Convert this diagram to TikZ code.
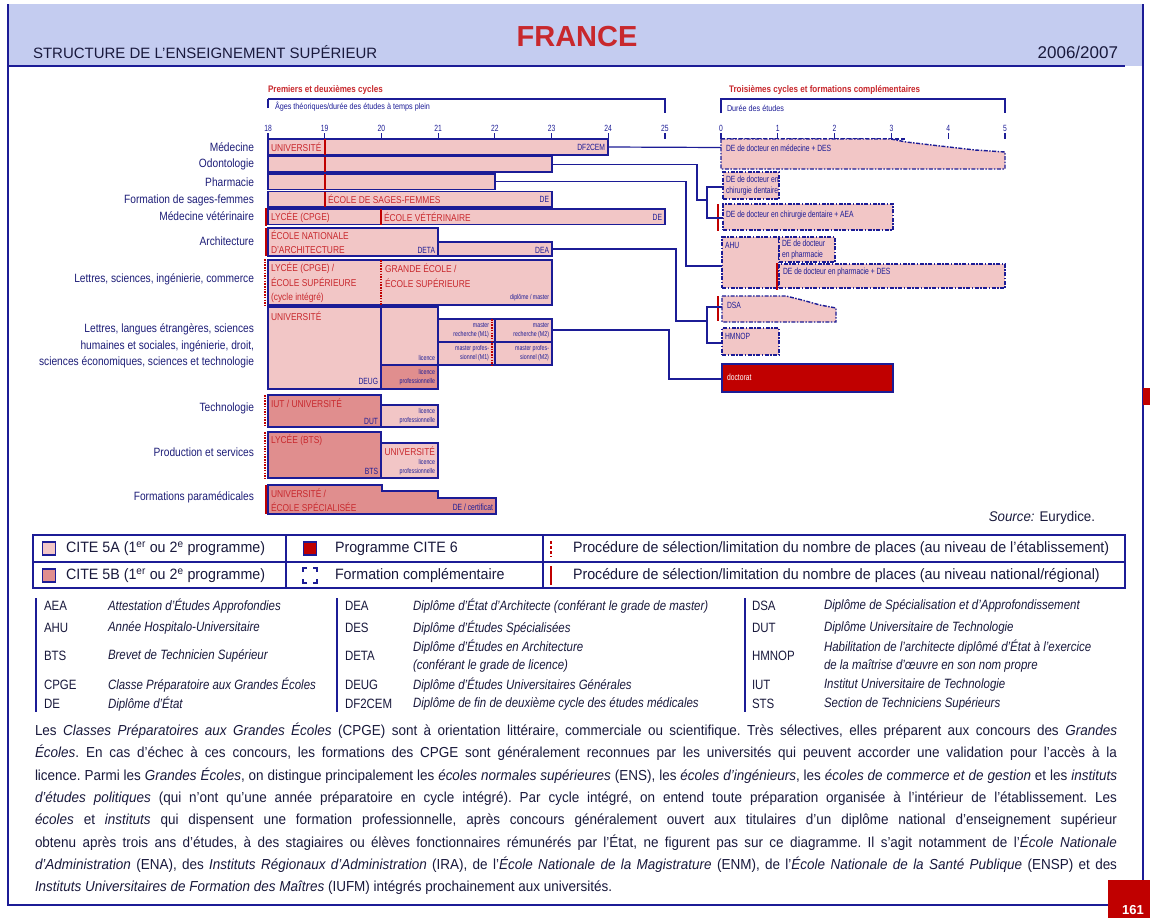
\documentclass[tikz,border=0pt]{standalone}
\usepackage{fontspec}
\setmainfont{Liberation Sans}[FakeStretch=0.85]
\newfontfamily\cond{Liberation Sans}[FakeStretch=0.75]
\newfontfamily\rcond{Liberation Sans}[FakeStretch=0.84]
\newfontfamily\lgfont{Liberation Sans}[FakeStretch=0.95]
\newfontfamily\parafont{Liberation Sans}[FakeStretch=0.93]
\newfontfamily\wide{Liberation Sans}
\newcommand\fsz[2]{\fontsize{#1}{#2}\selectfont}
\definecolor{navy}{RGB}{28,28,150}
\definecolor{ink}{RGB}{30,30,120}
\definecolor{pa}{RGB}{242,198,198}
\definecolor{pb}{RGB}{224,142,142}
\definecolor{dred}{RGB}{192,0,0}
\definecolor{rtxt}{RGB}{200,40,45}
\definecolor{hblue}{RGB}{196,204,240}
\definecolor{dark}{RGB}{25,25,60}
\newcommand\bx[6]{\node[#1,anchor=north west,minimum width={#5-#3},minimum height={#6-#4}] (#2) at (#3,#4) {};}
\begin{document}
\begin{tikzpicture}[x=1pt,y=-1pt,
 every node/.style={inner sep=0pt,outer sep=0pt},
 ba/.style={fill=pa,draw=navy,line width=1.4pt},
 bb/.style={fill=pb,draw=navy,line width=1.4pt},
 fc/.style={fill=pa,draw=navy,line width=1.4pt,dash pattern=on 4pt off 1.5pt on 1.5pt off 1.5pt},
 nat/.style={draw=dred,line width=1.8pt},
 etab/.style={draw=dred,line width=1.8pt,dash pattern=on 1.5pt off 1.2pt},
 conn/.style={draw=navy,line width=1.2pt},
 lab/.style={text=ink,font=\fsz{12}{16.5},anchor=east,align=right},
 rt/.style={text=rtxt,font=\rcond\fsz{10}{14.5},anchor=west,align=left},
 bt/.style={text=navy,font=\cond\fsz{9}{10},anchor=east,align=right},
 tt/.style={text=navy,font=\cond\fsz{7}{9},anchor=east,align=right},
 ft/.style={text=navy,font=\cond\fsz{9}{11},anchor=west,align=left},
 axn/.style={text=navy,font=\cond\fsz{9}{10}},
 lg/.style={text=dark,font=\lgfont\fsz{15}{17},anchor=west},
 ab/.style={text=dark,font=\fsz{13.5}{18},anchor=west,align=left},
 ad/.style={text=dark,font=\itshape\fsz{13.5}{18},anchor=west,align=left}]
\useasboundingbox (0,0) rectangle (1150,918);
\fill[white] (0,0) rectangle (1150,918);
% header
\fill[hblue] (8,4) rectangle (1143,66);
\draw[navy,line width=1.2pt] (8,4)--(8,905)--(1108,905);
\draw[navy,line width=1.2pt] (1143,4)--(1143,880);
\draw[navy,line width=1.5pt] (8,66)--(1125,66);
\node[anchor=west,text=dark,font=\wide\fsz{15}{16}] (htitle) at (33,52) {STRUCTURE DE L’ENSEIGNEMENT SUPÉRIEUR};
\node[anchor=east,text=dark,font=\wide\fsz{17}{18}] (hyear) at (1118,52) {2006/2007};
\node[text=rtxt,font=\wide\bfseries\fsz{29}{30}] (hfr) at (577,37) {FRANCE};
\fill[dred] (1143,388) rectangle (1150,405);
\node[fill=dred,anchor=north west,minimum width=42,minimum height=38] (pgbox) at (1108,880) {};
\node[text=white,font=\wide\bfseries\fsz{13}{14}] (pg) at (1133,910) {161};
% brackets
\node[anchor=west,text=rtxt,font=\bfseries\fsz{9.5}{10}] (c12) at (268,90) {Premiers et deuxièmes cycles};
\node[anchor=west,text=navy,font=\fsz{8.5}{9}] (ages) at (275,107) {Âges théoriques/durée des études à temps plein};
\draw[navy,line width=1.5pt] (268,108)--(268,99);
\draw[navy,line width=2.5pt] (268,99)--(665,99)--(665,113);
\node[anchor=west,text=rtxt,font=\bfseries\fsz{9.5}{10}] (c3) at (729,90) {Troisièmes cycles et formations complémentaires};
\node[anchor=west,text=navy,font=\fsz{8.5}{9}] (dur) at (727,108) {Durée des études};
\draw[navy,line width=2.5pt] (721,113)--(721,99)--(1005,99)--(1005,113);
% axes
\foreach \n [count=\i from 0] in {18,...,25} {
  \node[axn] (ax\n) at (268+56.7*\i,128) {\n};
  \draw[navy,line width=1.2pt] (268+56.7*\i,133)--(268+56.7*\i,139);
}
\draw[navy,line width=1.3pt] (268,138.5)--(608,138.5);
\foreach \n [count=\i from 0] in {0,...,5} {
  \node[axn] (ay\n) at (721+56.8*\i,128) {\n};
  \draw[navy,line width=1.2pt] (721+56.8*\i,133)--(721+56.8*\i,139);
}
\draw[navy,line width=1.3pt,dash pattern=on 4pt off 2pt] (721,139)--(906,139);
% left labels
\node[lab] (lmed) at (254,147) {Médecine};
\node[lab] (lodo) at (254,164) {Odontologie};
\node[lab] (lpha) at (254,182) {Pharmacie};
\node[lab] (lsag) at (254,200) {Formation de sages-femmes};
\node[lab] (lvet) at (254,216) {Médecine vétérinaire};
\node[lab] (larc) at (254,241) {Architecture};
\node[lab] (llet) at (254,279) {Lettres, sciences, ingénierie, commerce};
\node[lab] (luni) at (254,346) {Lettres, langues étrangères, sciences\\humaines et sociales, ingénierie, droit,\\sciences économiques, sciences et technologie};
\node[lab] (ltec) at (254,408) {Technologie};
\node[lab] (lpro) at (254,452) {Production et services};
\node[lab] (lpar) at (254,497) {Formations paramédicales};
% rows
\bx{ba}{med}{268}{139}{608}{155}
\draw[nat] (325,139)--(325,155);
\node[rt] (tmed) at (271,147.5) {UNIVERSITÉ};
\node[bt] (tdf) at (605,147.5) {DF2CEM};
\bx{ba}{odo}{268}{156.5}{552}{172}
\draw[nat] (325,156.5)--(325,172);
\bx{ba}{pha}{268}{174}{495}{189.5}
\draw[nat] (325,174)--(325,189.5);
\bx{ba}{sag}{268}{191.5}{552}{207}
\draw[nat] (325,191.5)--(325,207);
\node[rt] (tsag) at (328,199.5) {ÉCOLE DE SAGES-FEMMES};
\node[bt] (tsagde) at (549,199.5) {DE};
\bx{ba}{vet}{268}{209}{665}{224.5}
\draw[nat] (381,209)--(381,224.5);
\draw[nat] (266,208)--(266,225.5);
\node[rt] (tvet1) at (271,217) {LYCÉE (CPGE)};
\node[rt] (tvet2) at (384,217) {ÉCOLE VÉTÉRINAIRE};
\node[bt] (tvetde) at (662,217) {DE};
\bx{ba}{arc}{268}{228}{438}{256}
\bx{ba}{dea}{438}{242}{552}{256}
\draw[nat] (266,228)--(266,256);
\node[rt] (tarc) at (271,242) {ÉCOLE NATIONALE\\D’ARCHITECTURE};
\node[bt] (tdeta) at (435,250) {DETA};
\node[bt] (tdea) at (549,250) {DEA};
\bx{ba}{let}{268}{260}{552}{305}
\draw[etab] (381,260)--(381,305);
\draw[etab] (265,259)--(265,306);
\node[rt] (tlet1) at (271,283) {LYCÉE (CPGE) /\\ÉCOLE SUPÉRIEURE\\(cycle intégré)};
\node[rt] (tlet2) at (385,275.5) {GRANDE ÉCOLE /\\ÉCOLE SUPÉRIEURE};
\node[tt] (tlet3) at (549,298) {diplôme / master};
\bx{ba}{uni}{268}{307}{381}{389}
\bx{ba}{lic}{381}{307}{438}{365}
\bx{bb}{lpro}{381}{365}{438}{389}
\bx{ba}{mr1}{438}{319}{495}{342}
\bx{ba}{mr2}{495}{319}{552}{342}
\bx{ba}{mp1}{438}{342}{495}{365}
\bx{ba}{mp2}{495}{342}{552}{365}
\draw[etab] (492,319)--(492,365);
\node[rt] (tuni) at (271,316) {UNIVERSITÉ};
\node[bt] (tdeug) at (378,381) {DEUG};
\node[tt] (tlic) at (435,358) {licence};
\node[tt] (tlpro) at (435,377) {licence\\professionnelle};
\node[tt] (tmr1) at (489,330.5) {master\\recherche (M1)};
\node[tt] (tmr2) at (549,330.5) {master\\recherche (M2)};
\node[tt] (tmp1) at (489,353.5) {master profes-\\sionnel (M1)};
\node[tt] (tmp2) at (549,353.5) {master profes-\\sionnel (M2)};
\bx{bb}{iut}{268}{395}{381}{427}
\bx{ba}{lp2}{381}{405}{438}{427}
\draw[etab] (265,395)--(265,427);
\node[rt] (tiut) at (271,403) {IUT / UNIVERSITÉ};
\node[bt] (tdut) at (378,421) {DUT};
\node[tt] (tlp2) at (435,416) {licence\\professionnelle};
\bx{bb}{bts}{268}{432}{381}{478}
\bx{ba}{lp3}{381}{443}{438}{478}
\draw[etab] (265,432)--(265,478);
\node[rt] (tbts) at (271,440) {LYCÉE (BTS)};
\node[bt] (tbtsd) at (378,471) {BTS};
\node[rt,anchor=east] (tlp3u) at (435,451) {UNIVERSITÉ};
\node[tt] (tlp3) at (435,467) {licence\\professionnelle};
\draw[bb] (268,485)--(382,485)--(382,491)--(438,491)--(438,498)--(496,498)--(496,514)--(268,514)--cycle;
\draw[nat] (266,485)--(266,514);
\node[rt] (tpar) at (271,500) {UNIVERSITÉ /\\ÉCOLE SPÉCIALISÉE};
\node[bt] (tparde) at (493,507) {DE / certificat};
% right side
\draw[fc] (721,139)--(891,139)--(906,142)--(940,146)--(975,150)--(1005,152)--(1005,169)--(721,169)--cycle;
\coordinate (dmedw) at (721,147.5);
\node[ft] (tdmed) at (726,148) {DE de docteur en médecine + DES};
\bx{fc}{dch1}{723}{172}{779}{199}
\node[ft] (tdch1) at (726,185.5) {DE de docteur en\\chirurgie dentaire};
\bx{fc}{dch2}{723}{204}{893}{230}
\draw[nat] (718,204)--(718,231);
\node[ft] (tdch2) at (726,215) {DE de docteur en chirurgie dentaire + AEA};
\bx{fc}{ahu}{722}{237}{779}{288}
\node[ft] (tahu) at (725,245) {AHU};
\bx{fc}{dph1}{779}{237}{835}{262}
\node[ft] (tdph1) at (782,249.5) {DE de docteur\\en pharmacie};
\bx{fc}{dph2}{779}{264}{1005}{288}
\draw[nat] (777,263)--(777,290);
\node[ft] (tdph2) at (783,272) {DE de docteur en pharmacie + DES};
\draw[fc] (722,296)--(786,296)--(802,300)--(820,305)--(836,308)--(836,322)--(722,322)--cycle;
\coordinate (dsaw) at (722,307);
\draw[nat] (718,296)--(718,321);
\node[ft] (tdsa) at (727,305) {DSA};
\bx{fc}{hmn}{722}{328}{779}{355}
\node[ft] (thmn) at (725,336) {HMNOP};
\node[fill=dred,draw=navy,line width=1.4pt,anchor=north west,minimum width=171,minimum height=28] (doc) at (722,364) {};
\node[ft,text=white] (tdoc) at (727,377) {doctorat};
% connectors
\draw[conn] (med.east) -- (dmedw);
\draw[conn] (odo.east) -| (697,200) -- (707,200);
\draw[conn] (dch1.west |- 0,187) -- (707,187) -- (707,218) -- (dch2.west |- 0,218);
\draw[conn] (pha.east) -| (686,266) -- (ahu.west |- 0,266);
\draw[conn] (dea.east) -| (676,321) -- (707,321);
\draw[conn] (dsaw) -- (707,307) -- (707,343) -- (hmn.west |- 0,343);
\draw[conn] (mr2.east |- 0,330) -| (669,379) -- (doc.west |- 0,379);
% source
\node[anchor=east,text=dark,font=\lgfont\fsz{14}{16}] (src) at (1095,518) {\textit{Source:} Eurydice.};
% legend
\draw[navy,line width=1.5pt] (33,535) rectangle (1125,588);
\draw[navy,line width=1.2pt] (33,562)--(1125,562) (286,535)--(286,588) (543,535)--(543,588);
\node[ba,minimum size=13,line width=1.2pt] (lgA) at (49,548.5) {};
\node[lg] (lgAt) at (66,548.5) {CITE 5A (1\textsuperscript{er} ou 2\textsuperscript{e} programme)};
\node[bb,minimum size=13,line width=1.2pt] (lgB) at (49,575.5) {};
\node[lg] (lgBt) at (66,575.5) {CITE 5B (1\textsuperscript{er} ou 2\textsuperscript{e} programme)};
\node[fill=dred,draw=navy,line width=1.2pt,minimum size=13] (lg6) at (310,548.5) {};
\node[lg] (lg6t) at (335,548.5) {Programme CITE 6};
\coordinate (fcc) at (310,575.5);
\draw[navy,line width=1.5pt] (303,572)--(303,568)--(307,568) (313,568)--(317,568)--(317,572) (317,579)--(317,583)--(313,583) (307,583)--(303,583)--(303,579);
\node[lg] (lgft) at (335,575.5) {Formation complémentaire};
\draw[etab,line width=2.5pt,dash pattern=on 3pt off 2pt] (551,541)--(551,557);
\node[lg] (lget) at (573,548.5) {Procédure de sélection/limitation du nombre de places (au niveau de l’établissement)};
\draw[nat,line width=2.5pt] (551,566)--(551,585);
\node[lg] (lgnt) at (573,575.5) {Procédure de sélection/limitation du nombre de places (au niveau national/régional)};
% abbreviations
\draw[navy,line width=1.5pt] (36,598)--(36,712) (337,598)--(337,712) (745,598)--(745,712);
\node[ab] (a1) at (44,606) {AEA};   \node[ad] (d1) at (108,606) {Attestation d’Études Approfondies};
\node[ab] (a2) at (44,628) {AHU};   \node[ad] (d2) at (108,628) {Année Hospitalo-Universitaire};
\node[ab] (a3) at (44,656) {BTS};   \node[ad] (d3) at (108,656) {Brevet de Technicien Supérieur};
\node[ab] (a4) at (44,685) {CPGE};  \node[ad] (d4) at (108,685) {Classe Préparatoire aux Grandes Écoles};
\node[ab] (a5) at (44,704) {DE};    \node[ad] (d5) at (108,704) {Diplôme d’État};
\node[ab] (b1) at (345,606) {DEA};  \node[ad] (e1) at (413,606) {Diplôme d’État d’Architecte (conférant le grade de master)};
\node[ab] (b2) at (345,628) {DES};  \node[ad] (e2) at (413,628) {Diplôme d’Études Spécialisées};
\node[ab] (b3) at (345,656) {DETA}; \node[ad] (e3) at (413,656) {Diplôme d’Études en Architecture\\(conférant le grade de licence)};
\node[ab] (b4) at (345,685) {DEUG}; \node[ad] (e4) at (413,685) {Diplôme d’Études Universitaires Générales};
\node[ab] (b5) at (345,704) {DF2CEM}; \node[ad] (e5) at (413,704) {Diplôme de fin de deuxième cycle des études médicales};
\node[ab] (c1) at (752,606) {DSA};  \node[ad] (f1) at (824,606) {Diplôme de Spécialisation et d’Approfondissement};
\node[ab] (c2) at (752,628) {DUT};  \node[ad] (f2) at (824,628) {Diplôme Universitaire de Technologie};
\node[ab] (c3) at (752,656) {HMNOP}; \node[ad] (f3) at (824,656) {Habilitation de l’architecte diplômé d’État à l’exercice\\de la maîtrise d’œuvre en son nom propre};
\node[ab] (c4) at (752,685) {IUT};  \node[ad] (f4) at (824,685) {Institut Universitaire de Technologie};
\node[ab] (c5) at (752,704) {STS};  \node[ad] (f5) at (824,704) {Section de Techniciens Supérieurs};
% paragraph
\node[anchor=north west,text width=1082,align=justify,text=dark,font=\parafont\fsz{14.5}{22.3}\frenchspacing] (para) at (35,723) {%
Les \textit{Classes Préparatoires aux Grandes Écoles} (CPGE) sont à orientation littéraire, commerciale ou scientifique. Très sélectives, elles préparent aux concours des \textit{Grandes}\linebreak
\textit{Écoles}. En cas d’échec à ces concours, les formations des CPGE sont généralement reconnues par les universités qui peuvent accorder une validation pour l’accès à la\linebreak
licence. Parmi les \textit{Grandes Écoles}, on distingue principalement les \textit{écoles normales supérieures} (ENS), les \textit{écoles d’ingénieurs}, les \textit{écoles de commerce et de gestion} et les \textit{instituts}\linebreak
\textit{d’études politiques} (qui n’ont qu’une année préparatoire en cycle intégré). Par cycle intégré, on entend toute préparation organisée à l’intérieur de l’établissement. Les\linebreak
\textit{écoles} et \textit{instituts} qui dispensent une formation professionnelle, après concours généralement ouvert aux titulaires d’un diplôme national d’enseignement supérieur\linebreak
obtenu après trois ans d’études, à des stagiaires ou élèves fonctionnaires rémunérés par l’État, ne figurent pas sur ce diagramme. Il s’agit notamment de l’\textit{École Nationale}\linebreak
\textit{d’Administration} (ENA), des \textit{Instituts Régionaux d’Administration} (IRA), de l’\textit{École Nationale de la Magistrature} (ENM), de l’\textit{École Nationale de la Santé Publique} (ENSP) et des\linebreak
\textit{Instituts Universitaires de Formation des Maîtres} (IUFM) intégrés prochainement aux universités.};
\end{tikzpicture}
\end{document}
